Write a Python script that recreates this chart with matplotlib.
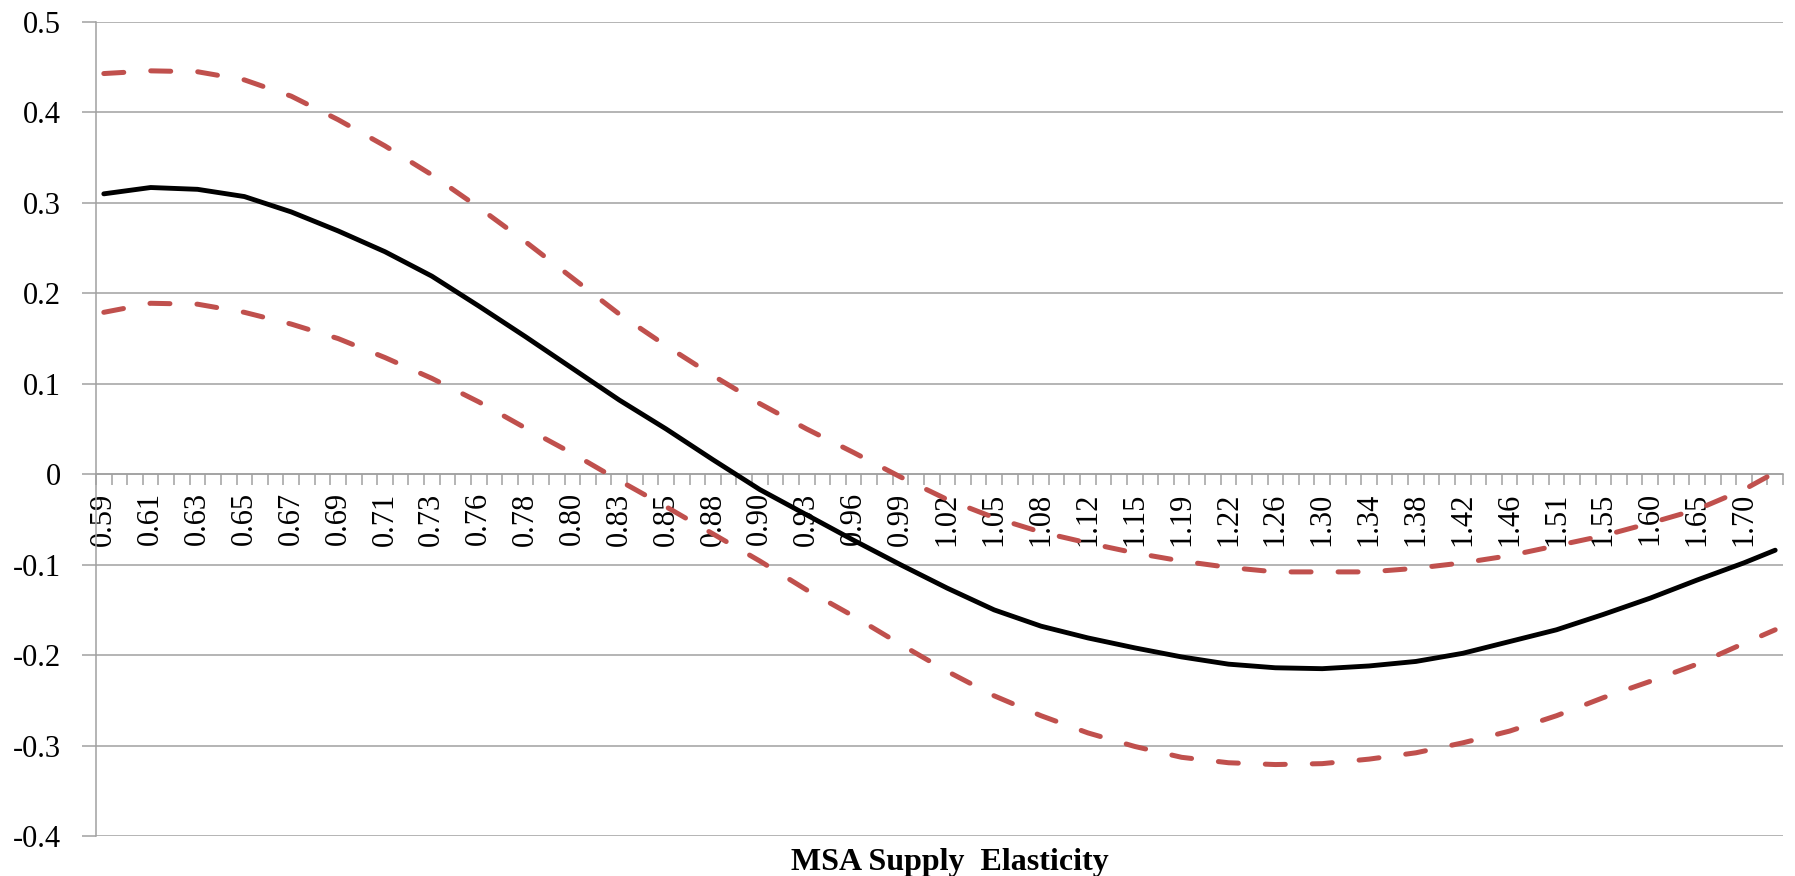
import matplotlib
matplotlib.use("Agg")
import matplotlib.pyplot as plt
from matplotlib.ticker import FixedLocator, FixedFormatter

# category axis: 108 elasticity values, every third one labelled
N_CATEGORIES = 108
tick_labels = ["0.59", "0.61", "0.63", "0.65", "0.67", "0.69", "0.71", "0.73",
               "0.76", "0.78", "0.80", "0.83", "0.85", "0.88", "0.90", "0.93",
               "0.96", "0.99", "1.02", "1.05", "1.08", "1.12", "1.15", "1.19",
               "1.22", "1.26", "1.30", "1.34", "1.38", "1.42", "1.46", "1.51",
               "1.55", "1.60", "1.65", "1.70"]
label_cats = list(range(0, 106, 3))

# values at these categories
sample_cats = list(range(0, 106, 3)) + [107]
estimate = [0.310, 0.317, 0.315, 0.307, 0.290, 0.269, 0.246, 0.219, 0.186,
            0.152, 0.117, 0.082, 0.050, 0.016, -0.017, -0.045, -0.073, -0.100,
            -0.126, -0.150, -0.168, -0.181, -0.192, -0.202, -0.210, -0.214,
            -0.215, -0.212, -0.207, -0.198, -0.185, -0.172, -0.155, -0.137,
            -0.117, -0.098, -0.084]
upper = [0.443, 0.446, 0.445, 0.436, 0.418, 0.392, 0.363, 0.331, 0.295,
         0.257, 0.217, 0.177, 0.142, 0.109, 0.078, 0.050, 0.024, -0.003,
         -0.028, -0.048, -0.064, -0.076, -0.087, -0.096, -0.103, -0.108,
         -0.108, -0.108, -0.104, -0.098, -0.090, -0.079, -0.068, -0.054,
         -0.039, -0.017, 0.002]
lower = [0.179, 0.189, 0.188, 0.179, 0.166, 0.150, 0.129, 0.106, 0.080,
         0.051, 0.023, -0.007, -0.036, -0.066, -0.096, -0.128, -0.157, -0.188,
         -0.218, -0.245, -0.267, -0.286, -0.301, -0.313, -0.319, -0.321,
         -0.320, -0.315, -0.308, -0.297, -0.284, -0.267, -0.247, -0.229,
         -0.210, -0.187, -0.172]

y_ticks = [0.5, 0.4, 0.3, 0.2, 0.1, 0.0, -0.1, -0.2, -0.3, -0.4]
y_tick_labels = ["0.5", "0.4", "0.3", "0.2", "0.1", "0", "-0.1", "-0.2", "-0.3", "-0.4"]

RED = "#C0504D"
GRAY = "#A0A0A0"

plt.rcParams["font.family"] = ["Liberation Serif", "DejaVu Serif"]

fig = plt.figure(figsize=(17.95, 8.76), dpi=100)
ax = fig.add_axes([96 / 1795, 1 - 836 / 876, (1783 - 96) / 1795, (836 - 22) / 876])

ax.plot(sample_cats, upper, color=RED, lw=3.6, dashes=(4, 5.4),
        dash_capstyle="round", zorder=3)
ax.plot(sample_cats, lower, color=RED, lw=3.6, dashes=(4, 5.4),
        dash_capstyle="round", zorder=3)
ax.plot(sample_cats, estimate, color="black", lw=3.5,
        solid_capstyle="round", zorder=4)

ax.set_xlim(-0.5, N_CATEGORIES - 0.5)
ax.set_ylim(-0.4, 0.5)

# y axis
ax.yaxis.set_major_locator(FixedLocator(y_ticks))
ax.yaxis.set_major_formatter(FixedFormatter(y_tick_labels))
ax.tick_params(axis="y", length=10, width=1.1, color=GRAY, pad=15,
               labelsize=22)
ax.grid(axis="y", color=GRAY, lw=1.1)
ax.set_axisbelow(True)

# category axis crossing at zero
ax.spines["bottom"].set_position(("data", 0))
ax.spines["top"].set_visible(False)
ax.spines["right"].set_visible(False)
for s in ("bottom", "left"):
    ax.spines[s].set_color(GRAY)
    ax.spines[s].set_linewidth(1.1)

ax.xaxis.set_major_locator(FixedLocator(label_cats))
ax.xaxis.set_major_formatter(FixedFormatter(tick_labels))
ax.xaxis.set_minor_locator(FixedLocator([i - 0.5 for i in range(N_CATEGORIES + 1)]))
ax.tick_params(axis="x", which="major", length=0, pad=13, labelsize=22,
               labelrotation=90)
ax.tick_params(axis="x", which="minor", length=8, width=1.1, color=GRAY)

fig.text(950 / 1795, 1 - 870 / 876, "MSA Supply  Elasticity", ha="center",
         va="baseline", fontsize=23, fontweight="bold")

fig.savefig("out.png", dpi=100)
